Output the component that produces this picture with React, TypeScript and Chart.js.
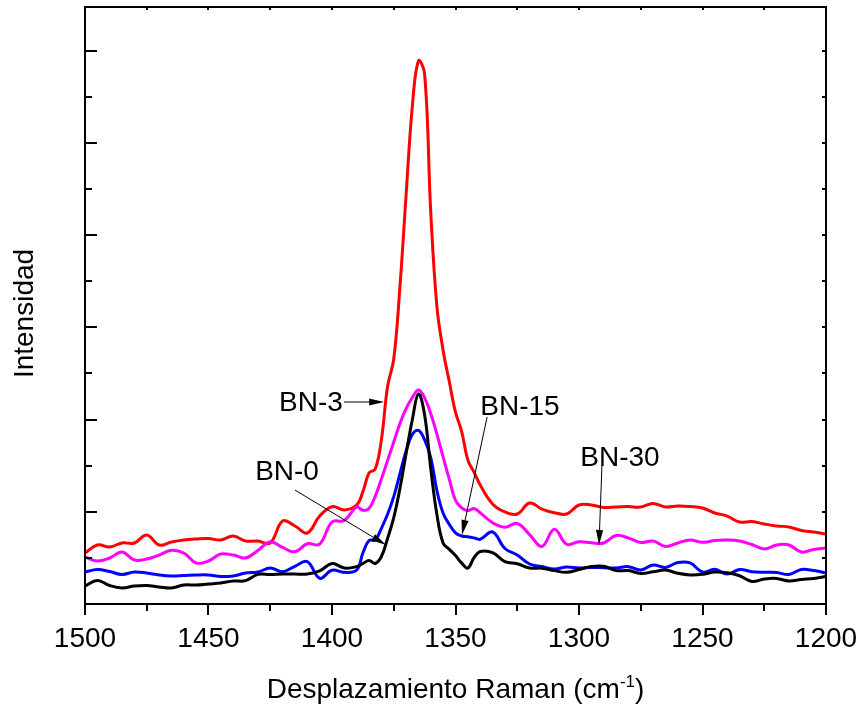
import React, { useEffect, useRef } from 'react';
import { Chart, registerables } from 'chart.js';

Chart.register(...registerables);

// Raman shift (cm-1)
const shifts = [
  1500, 1495, 1490, 1485, 1480, 1475, 1470, 1465, 1460, 1455, 1450, 1445, 1440, 1435, 1430, 1425, 1420, 1415, 1410, 1405, 1400, 1395,
  1390, 1387.5, 1385, 1382.5, 1380, 1377.5, 1375, 1372.5, 1370, 1367.5, 1365, 1362.5, 1360, 1357.5, 1355, 1352.5, 1350, 1347.5, 1345, 1342.5, 1340,
  1335, 1330, 1325, 1320, 1315, 1310, 1305, 1300, 1295, 1290, 1285, 1280, 1275, 1270, 1265, 1260, 1255, 1250, 1245, 1240, 1235, 1230, 1225, 1220, 1215, 1210, 1205, 1200,
];

// BN-0 (black)
const bn0 = [
  19.5, 25.5, 20.1, 17.4, 19.5, 20.1, 18.4, 17.4, 20.6, 20.6, 21.7, 22.8, 24.9, 25.3, 32.1, 32, 32.5, 32.5, 32.5, 35.8, 43.9, 39,
  40.5, 43.9, 47.2, 43.9, 51.5, 71.1, 93.7, 125.3, 163.2, 199.6, 227.8, 205, 146.4, 96.5, 65.8, 59.3, 52.6, 44.3, 39, 50.3, 56.9,
  55.7, 45.9, 43.6, 39, 38.9, 36.2, 34.4, 37.4, 40.7, 40.9, 36.2, 36.3, 33.1, 34.9, 36.8, 33.3, 31.5, 32.2, 34.7, 33.8, 30.6, 24.4, 27.1, 27.7, 24.9, 26.6, 27.7, 29.8,
];

// BN-3 (red)
const bn3 = [
  55.3, 64, 61.8, 66.2, 66.2, 74.8, 64, 67.2, 69.4, 70.5, 71, 69.4, 73.8, 68.3, 68.3, 66.2, 90, 84.6, 77, 95.4, 105.5, 102,
  107.4, 121.7, 142.1, 146.4, 178, 236, 265.7, 343.8, 443.6, 539, 589, 575, 424, 322, 275, 241, 208, 187, 156, 143, 129,
  108.5, 99.8, 97.6, 109.5, 103, 99, 97.6, 107.4, 107.4, 104.7, 105.2, 105.7, 105.2, 109, 105.2, 106.3, 105.7, 104.1, 98.7, 95.4, 88.9, 89.5, 86.8, 84.6, 83.5, 79.7, 78.1, 75.9,
];

// BN-15 (blue)
const bn15 = [
  34.7, 37.4, 35.2, 32, 34.7, 33.6, 31.5, 30.4, 30.9, 31.5, 31.5, 29.8, 30.4, 33.6, 34.7, 39, 35, 40.9, 45.9, 27.9, 36.6, 34.3,
  36.9, 55.3, 68.8, 69.4, 82.1, 97.3, 116.4, 141.3, 166, 183.8, 188.2, 177.9, 158.4, 122.6, 98.4, 86.3, 77.2, 73.8, 73, 71.7, 70.2,
  78.1, 60.2, 53.1, 43.4, 40.6, 38, 40.1, 39, 39.6, 39.3, 39, 40.5, 36.9, 42.3, 39.7, 45, 44.5, 34.7, 37.6, 32.5, 37.4, 35.1, 34.4, 34.2, 32, 37.4, 36.3, 33.6,
];

// BN-30 (magenta)
const bn30 = [
  51, 46.6, 49.9, 56.4, 47.7, 48.8, 53.1, 58.2, 55.3, 44.5, 46.6, 54.2, 53.1, 49.9, 58.1, 67.6, 61.3, 56.7, 65.3, 65, 88.9, 90.7,
  105.2, 101.6, 103.6, 116.8, 135.6, 155.6, 175.8, 195.8, 212, 223.9, 232, 223.6, 206.4, 184, 159.2, 135.1, 112.3, 104.3, 101.2, 103.5, 99,
  88.1, 83.3, 87.3, 75.3, 62.4, 81, 64.8, 67.4, 66.5, 66.2, 74.3, 71.6, 66.7, 68.3, 62.4, 66.2, 69.4, 66.9, 68.9, 69.4, 68.3, 64.5, 59.7, 64, 64, 56.4, 59.1, 60.7,
];

const xTickValues = [1500, 1450, 1400, 1350, 1300, 1250, 1200];
const xTickLabels = ['1500', '1450', '1400', '1350', '1300', '1250', '1200'];
const xMinorStep = 25;
const yMajorStep = 100;
const yMinorStep = 50;

const X_MIN = 1200;
const X_MAX = 1500;
const Y_MIN = 0;
const Y_MAX = 647.5;

const xTitle = 'Desplazamiento Raman (cm';
const xTitleSup = '-1';
const xTitleEnd = ')';
const yTitle = 'Intensidad';

// Callout labels: text position and arrow (data coordinates)
const callouts = [
  { text: 'BN-3', x: 1408.5, y: 209.3, from: [1395.1, 219.1], to: [1378.9, 219.1] },
  { text: 'BN-0', x: 1418.2, y: 134.5, from: [1415, 123.6], to: [1378.1, 64] },
  { text: 'BN-15', x: 1323.9, y: 205, from: [1337.2, 202.8], to: [1347.4, 74.8] },
  { text: 'BN-30', x: 1283.4, y: 149.7, from: [1290.7, 150.8], to: [1291.9, 64] },
];

const FONT = '"Liberation Sans", Arial, Helvetica, sans-serif';

function drawArrow(ctx: CanvasRenderingContext2D, x1: number, y1: number, x2: number, y2: number) {
  const ang = Math.atan2(y2 - y1, x2 - x1);
  const len = 15;
  const hw = 3.6;
  const bx = x2 - len * Math.cos(ang);
  const by = y2 - len * Math.sin(ang);
  ctx.beginPath();
  ctx.moveTo(x1, y1);
  ctx.lineTo(bx, by);
  ctx.lineWidth = 1;
  ctx.strokeStyle = '#000';
  ctx.stroke();
  ctx.beginPath();
  ctx.moveTo(x2, y2);
  ctx.lineTo(bx + hw * Math.sin(ang), by - hw * Math.cos(ang));
  ctx.lineTo(bx - hw * Math.sin(ang), by + hw * Math.cos(ang));
  ctx.closePath();
  ctx.fillStyle = '#000';
  ctx.fill();
}

const framePlugin = {
  id: 'frameDecor',
  afterDatasetsDraw(chart: any) {
    const { ctx, chartArea: a, scales } = chart;
    const xs = scales.x;
    const ys = scales.y;
    ctx.save();
    ctx.strokeStyle = '#000';
    ctx.lineWidth = 2;
    ctx.lineCap = 'butt';

    // frame
    ctx.strokeRect(a.left, a.top, a.right - a.left, a.bottom - a.top);

    // x ticks (bottom outward, top inward small)
    for (let v = X_MIN; v <= X_MAX; v += xMinorStep) {
      const px = Math.round(xs.getPixelForValue(v));
      const major = xTickValues.includes(v);
      ctx.beginPath();
      ctx.moveTo(px, a.bottom);
      ctx.lineTo(px, a.bottom + (major ? 11 : 7));
      ctx.moveTo(px, a.top);
      ctx.lineTo(px, a.top + 3);
      ctx.stroke();
    }

    // y ticks (left inward, right inward small)
    for (let v = Y_MIN + yMinorStep; v < Y_MAX; v += yMinorStep) {
      const py = Math.round(ys.getPixelForValue(v));
      const major = v % yMajorStep === 0;
      ctx.beginPath();
      ctx.moveTo(a.left, py);
      ctx.lineTo(a.left + (major ? 12 : 7), py);
      ctx.moveTo(a.right, py);
      ctx.lineTo(a.right - 4, py);
      ctx.stroke();
    }

    // x tick labels
    ctx.fillStyle = '#000';
    ctx.font = `28px ${FONT}`;
    ctx.textAlign = 'center';
    ctx.textBaseline = 'alphabetic';
    xTickValues.forEach((v, i) => {
      ctx.fillText(xTickLabels[i], xs.getPixelForValue(v), a.bottom + 43);
    });

    // x title with superscript
    const cx = (a.left + a.right) / 2;
    ctx.font = `28px ${FONT}`;
    const w1 = ctx.measureText(xTitle).width;
    const w3 = ctx.measureText(xTitleEnd).width;
    ctx.font = `17px ${FONT}`;
    const w2 = ctx.measureText(xTitleSup).width;
    const total = w1 + w2 + w3;
    let sx = cx - total / 2;
    const base = a.bottom + 94;
    ctx.textAlign = 'left';
    ctx.font = `28px ${FONT}`;
    ctx.fillText(xTitle, sx, base);
    sx += w1;
    ctx.font = `17px ${FONT}`;
    ctx.fillText(xTitleSup, sx, base - 11);
    sx += w2;
    ctx.font = `28px ${FONT}`;
    ctx.fillText(xTitleEnd, sx, base);

    // y title
    ctx.save();
    ctx.translate(a.left - 52, (a.top + a.bottom) / 2 + 8);
    ctx.rotate(-Math.PI / 2);
    ctx.textAlign = 'center';
    ctx.textBaseline = 'alphabetic';
    ctx.font = `28px ${FONT}`;
    ctx.fillText(yTitle, 0, 0);
    ctx.restore();

    // callouts
    callouts.forEach((c) => {
      ctx.font = `28px ${FONT}`;
      ctx.textAlign = 'center';
      ctx.textBaseline = 'alphabetic';
      ctx.fillStyle = '#000';
      ctx.fillText(c.text, xs.getPixelForValue(c.x), ys.getPixelForValue(c.y));
      drawArrow(
        ctx,
        xs.getPixelForValue(c.from[0]),
        ys.getPixelForValue(c.from[1]),
        xs.getPixelForValue(c.to[0]),
        ys.getPixelForValue(c.to[1])
      );
    });

    ctx.restore();
  },
};

function toPoints(vals: number[]) {
  return shifts.map((x, i) => ({ x, y: vals[i] }));
}

export default function App() {
  const ref = useRef<HTMLCanvasElement>(null);

  useEffect(() => {
    if (!ref.current) return;
    const common = {
      pointRadius: 0,
      borderWidth: 3,
      fill: false,
      tension: 0.4,
      borderJoinStyle: 'round' as const,
      borderCapStyle: 'round' as const,
    };
    const chart = new Chart(ref.current, {
      type: 'line',
      data: {
        datasets: [
          { label: 'BN-0', data: toPoints(bn0), borderColor: '#000000', ...common },
          { label: 'BN-15', data: toPoints(bn15), borderColor: '#0000FF', ...common },
          { label: 'BN-30', data: toPoints(bn30), borderColor: '#FF00FF', ...common },
          { label: 'BN-3', data: toPoints(bn3), borderColor: '#FF0000', ...common },
        ],
      },
      options: {
        animation: false,
        responsive: false,
        maintainAspectRatio: false,
        events: [],
        layout: { padding: { left: 85, right: 34, top: 7, bottom: 105 } },
        plugins: {
          legend: { display: false },
          tooltip: { enabled: false },
        },
        scales: {
          x: { type: 'linear', display: false, min: X_MIN, max: X_MAX, reverse: true },
          y: { type: 'linear', display: false, min: Y_MIN, max: Y_MAX },
        },
      },
      plugins: [framePlugin],
    });
    return () => chart.destroy();
  }, []);

  return (
    <div style={{ position: 'absolute', left: 0, top: 0, width: 860, height: 709, background: '#ffffff' }}>
      <canvas ref={ref} width={860} height={709} style={{ width: 860, height: 709, display: 'block' }} />
    </div>
  );
}
